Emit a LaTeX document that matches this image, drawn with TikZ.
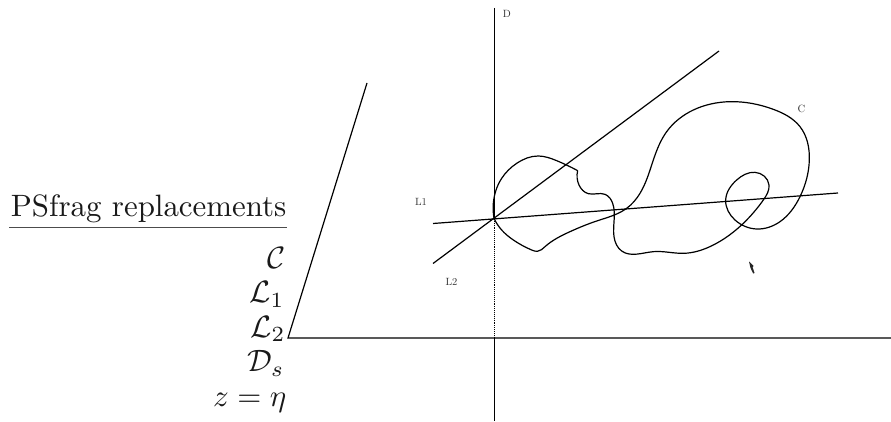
\documentclass[tikz,border=0pt]{standalone}
\usetikzlibrary{hobby}
\begin{document}
\begin{tikzpicture}[x=1pt,y=1pt,
  ln/.style={draw=black,line width=1.2pt},
  curveline/.style={draw=black,line width=1.2pt,line join=round},
  big/.style={inner sep=0pt,scale=3.09,anchor=base east,text=black!90},
  small/.style={inner sep=0pt,scale=1.05,anchor=base,text=black!80}]
\useasboundingbox (0,0) rectangle (891,421);
\fill[white] (0,0) rectangle (891,421);
% frame of the lines
\coordinate (dtop) at (494.7,413);
\coordinate (o) at (494.7,204);
\coordinate (dmid) at (494.7,83);
\coordinate (dbot) at (494.7,0);
\coordinate (axl) at (288,83);
\coordinate (axr) at (891,83);
\coordinate (axt) at (367,338);
\coordinate (l1a) at (433,197.5);
\coordinate (l1b) at (838,228);
\coordinate (l2a) at (433,157.5);
\coordinate (l2b) at (719,370);
\draw[ln] (dtop)--(o);
\draw[black,line width=.9pt,densely dotted] (o)--(dmid);
\draw[ln] (dmid)--(dbot);
\draw[ln] (axt)--(axl)--(axr);
\draw[ln] (l1a)--(l1b);
\draw[ln] (l2a)--(l2b);
% closed curve, zoom coordinates of the reference
\begin{scope}[shift={(480,331)},x=0.33333pt,y=-0.33333pt]
\draw[curveline] (42,385) to[curve through={(40,340)(65,265)(110,220)(175,198)(230,212)}] (293,242);
\draw[curveline] (293,242) to[curve through={(297,285)(325,311)(375,313)(398,340)(402,440)(425,483)(520,485)(610,490)(700,465)(790,400)(850,330)(867,285)(825,247)(770,270)(737,330)(765,390)(830,417)(900,395)(960,320)(988,210)(960,110)(880,58)(750,35)(640,60)(560,125)(520,210)(480,310)(440,355)(350,393)(270,425)(195,470)(172,484)(155,480)(100,450)(65,420)}] (42,385);
\end{scope}
\fill[black!85] (749,159.5) -- (753.5,155) -- (752.5,154) -- (754.5,148) -- (753.2,147.5) -- (750.5,153) -- cycle;
% labels
\node[small] (lD) at (507,403.5) {D};
\node[small] (lC) at (801.5,308) {C};
\node[small] (lL1) at (421,216) {L1};
\node[small] (lL2) at (451.5,135.5) {L2};
\node[big] (ps) at (287,205) {PSfrag replacements};
\draw[black!70,line width=1.1pt] (9,193.5)--(287,193.5);
\node[big] (c) at (286,153) {$\mathcal{C}$};
\node[big] (l1) at (285,118.5) {$\mathcal{L}_1$};
\node[big] (l2) at (286,84) {$\mathcal{L}_2$};
\node[big] (ds) at (285,49.5) {$\mathcal{D}_s$};
\node[big] (z) at (287,15) {$z=\eta$};
\end{tikzpicture}
\end{document}
